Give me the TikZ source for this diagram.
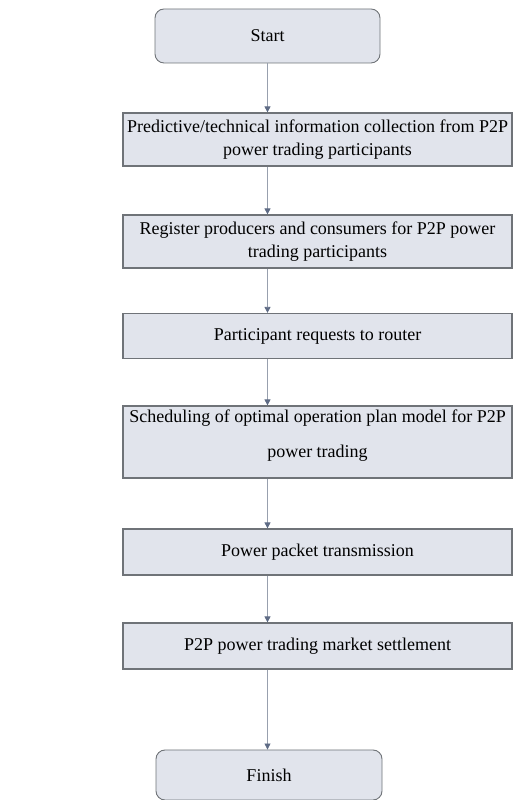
\documentclass[tikz,border=0pt]{standalone}
\usepackage{fontspec}
\setmainfont{Liberation Serif}
\usetikzlibrary{arrows.meta}
\definecolor{boxfill}{HTML}{E1E4EC}
\definecolor{boxline}{HTML}{6F7378}
\definecolor{arrowc}{HTML}{98A0AE}
\definecolor{arrowtip}{HTML}{5E6B85}
\tikzset{
  termbox/.style={draw=boxline, line width=0.9pt, fill=boxfill, rounded corners=9pt,
    minimum width=225pt, minimum height=54pt, inner sep=0pt, font=\fontsize{18}{22}\selectfont},
  procbox/.style={draw=boxline, line width=1.2pt, fill=boxfill,
    minimum width=389pt, inner sep=0pt, align=center, font=\fontsize{18}{23}\selectfont},
  boxtext/.style={inner sep=0pt, align=center, font=\fontsize{18}{35}\selectfont},
  flow/.style={draw=arrowc, line width=0.8pt, -{Triangle[length=6pt,width=6pt,color=arrowtip]}}
}
\begin{document}
\begin{tikzpicture}[x=1pt,y=1pt]
\useasboundingbox (0,0) rectangle (513,800);
\node[termbox] (start) at (267.5,764) {Start};
\node[procbox, minimum height=53pt] (b1) at (317.5,660.5) {Predictive/technical information collection from P2P\\power trading participants};
\node[procbox, minimum height=53pt] (b2) at (317.5,558.5) {Register producers and consumers for P2P power\\trading participants};
\node[procbox, minimum height=45pt] (b3) at (317.5,464) {Participant requests to router};
\node[procbox, minimum height=72pt] (b4) at (317.5,358) {};
\node[boxtext] (b4t) at ([yshift=6pt]b4.center) {Scheduling of optimal operation plan model for P2P\\power trading};
\node[procbox, minimum height=46pt] (b5) at (317.5,248) {Power packet transmission};
\node[procbox, minimum height=46pt] (b6) at (317.5,154) {P2P power trading market settlement};
\node[termbox, minimum width=226pt, minimum height=50pt] (fin) at (269,25) {Finish};
\draw[flow] (start.south) -- (start.south |- b1.north);
\draw[flow] (b1.south -| start.south) -- (start.south |- b2.north);
\draw[flow] (b2.south -| start.south) -- (start.south |- b3.north);
\draw[flow] (b3.south -| start.south) -- (start.south |- b4.north);
\draw[flow] (b4.south -| start.south) -- (start.south |- b5.north);
\draw[flow] (b5.south -| start.south) -- (start.south |- b6.north);
\draw[flow] (b6.south -| start.south) -- (start.south |- fin.north);
\end{tikzpicture}
\end{document}
